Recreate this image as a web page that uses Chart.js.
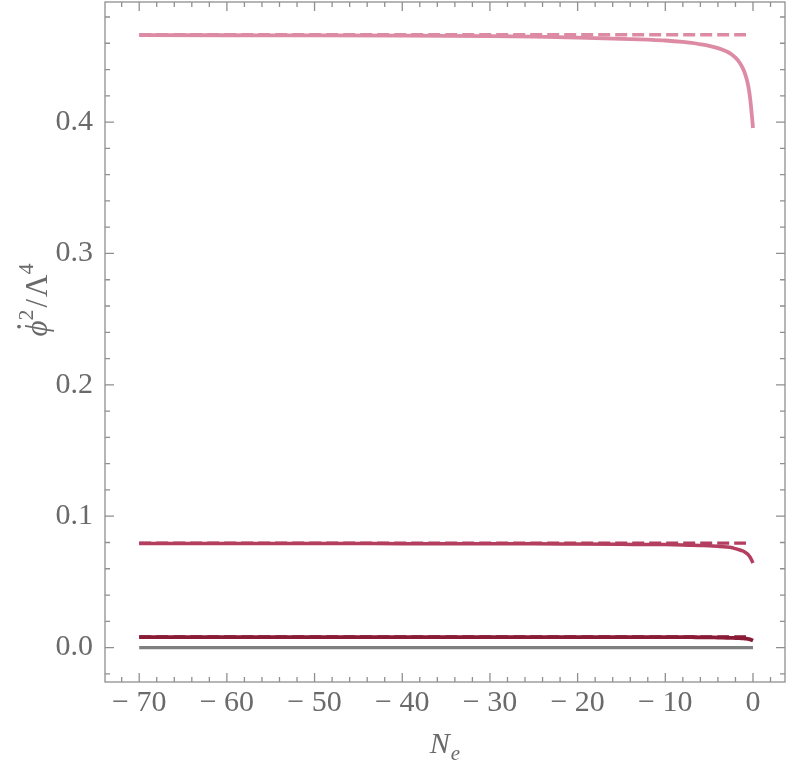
<!DOCTYPE html>
<html>
<head>
<meta charset="utf-8">
<script src="https://cdn.jsdelivr.net/npm/chart.js@4"></script>
<style>
html,body{margin:0;padding:0;background:#fff;}
#wrap{width:789px;height:774px;position:relative;}
</style>
</head>
<body>
<div id="wrap"><canvas id="c" width="789" height="774"></canvas></div>
<script>
// ---- data ----
const nE     = [-70,-60,-50,-40,-30,-25,-20,-15,-12,-10,-8,-7,-6,-5,-4,-3,-2.5,-2,-1.5,-1.2,-1,-0.8,-0.6,-0.45,-0.3,-0.2,-0.1,0];
const phiTop = [0.4662,0.4661,0.4660,0.4658,0.4654,0.4650,0.4643,0.4634,0.4627,0.4621,0.4610,0.4602,0.4592,0.4580,0.4563,0.4537,0.4518,0.4490,0.4450,0.4415,0.4385,0.4345,0.4295,0.4240,0.4165,0.4100,0.4030,0.3955];
const phiMid = [0.0792,0.0792,0.0792,0.0791,0.0790,0.0790,0.0788,0.0786,0.0785,0.0784,0.0781,0.0779,0.0777,0.0775,0.0771,0.0766,0.0762,0.0753,0.0743,0.0736,0.0730,0.0721,0.0710,0.0699,0.0685,0.0672,0.0658,0.0644];
const phiLow = [0.0080,0.0080,0.0080,0.0080,0.0080,0.0080,0.0080,0.0080,0.0079,0.0079,0.0079,0.0079,0.0078,0.0078,0.0076,0.0075,0.0074,0.0073,0.0072,0.0070,0.0069,0.0068,0.0066,0.0064,0.0061,0.0059,0.0056,0.0053];
const dashN   = [-70,-0.8];
const dashTop = [0.4665,0.4665];
const dashMid = [0.0795,0.0795];
const dashLow = [0.0081,0.0081];
const zeroN   = [-70,0];
const zeroVal = [0,0];
const xTicks  = [-70,-60,-50,-40,-30,-20,-10,0];
const yTicks  = [0.0,0.1,0.2,0.3,0.4];

const cTop='rgb(221,139,164)', cMid='rgb(180,62,95)', cLow='rgb(138,27,54)', cGray='rgb(128,128,128)';
const frameCol='#8f8f8f', textCol='#6a6a6a';
const serif='"Liberation Serif","Times New Roman",serif';

const pts=(xs,ys)=>xs.map((x,i)=>({x:x,y:ys[i]}));

const framePlugin={
  id:'frame',
  afterDraw(chart){
    const ctx=chart.ctx, a=chart.chartArea, xs=chart.scales.x, ys=chart.scales.y;
    ctx.save();
    ctx.strokeStyle=frameCol; ctx.lineWidth=1.3;
    ctx.strokeRect(a.left,a.top,a.right-a.left,a.bottom-a.top);
    ctx.beginPath();
    const maj=9, mnr=5;
    for(let v=-72; v<=2; v+=2){
      const p=xs.getPixelForValue(v); const L=(v%10===0)?maj:mnr;
      ctx.moveTo(p,a.bottom); ctx.lineTo(p,a.bottom-L);
      ctx.moveTo(p,a.top); ctx.lineTo(p,a.top+L);
    }
    for(let k=-1; k<=24; k++){
      const v=k*0.02; const p=ys.getPixelForValue(v); const L=(k%5===0)?maj:mnr;
      ctx.moveTo(a.left,p); ctx.lineTo(a.left+L,p);
      ctx.moveTo(a.right,p); ctx.lineTo(a.right-L,p);
    }
    ctx.stroke();
    // axis titles
    ctx.fillStyle=textCol;
    ctx.textBaseline='alphabetic'; ctx.textAlign='left';
    ctx.font='italic 30px '+serif;
    const nw=ctx.measureText('N').width;
    ctx.font='italic 21px '+serif;
    const ew=ctx.measureText('e').width;
    const cx=(a.left+a.right)/2, by=753;
    let x0=cx-(nw+ew+1)/2;
    ctx.font='italic 30px '+serif; ctx.fillText('N',x0,by);
    ctx.font='italic 21px '+serif; ctx.fillText('e',x0+nw+1,by+7);
    // phi-dot^2 / Lambda^4 (rotated)
    ctx.translate(37,300); ctx.rotate(-Math.PI/2);
    const parts=[
      {t:'\u03D5',f:'italic 31px '+serif,dy:0},
      {t:'2',f:'22px '+serif,dy:-14},
      {t:'/',f:'31px '+serif,dy:0,pad:2},
      {t:'\u039B',f:'31px '+serif,dy:0},
      {t:'4',f:'22px '+serif,dy:-14}
    ];
    let tw=0; parts.forEach(p=>{ctx.font=p.f; p.w=ctx.measureText(p.t).width+(p.pad||0)*2; tw+=p.w;});
    let px=-tw/2;
    parts.forEach((p,i)=>{
      ctx.font=p.f; ctx.fillText(p.t,px+(p.pad||0),p.dy+10);
      if(i===0){ ctx.beginPath(); ctx.arc(px+p.w*0.62,-18,1.9,0,Math.PI*2); ctx.fill(); }
      px+=p.w;
    });
    ctx.restore();
  }
};

new Chart(document.getElementById('c'),{
  type:'line',
  data:{datasets:[
    {data:pts(zeroN,zeroVal),borderColor:cGray,borderWidth:3.2},
    {data:pts(nE,phiLow),borderColor:cLow,borderWidth:3.8,cubicInterpolationMode:'monotone'},
    {data:pts(dashN,dashLow),borderColor:cLow,borderWidth:3.2,borderDash:[12,5]},
    {data:pts(nE,phiMid),borderColor:cMid,borderWidth:3.5,cubicInterpolationMode:'monotone'},
    {data:pts(dashN,dashMid),borderColor:cMid,borderWidth:3.2,borderDash:[12,5]},
    {data:pts(nE,phiTop),borderColor:cTop,borderWidth:3.8,cubicInterpolationMode:'monotone'},
    {data:pts(dashN,dashTop),borderColor:cTop,borderWidth:3.4,borderDash:[12,5]}
  ]},
  options:{
    responsive:false,animation:false,
    layout:{padding:{top:2,right:4,left:0,bottom:0}},
    elements:{point:{radius:0}},
    plugins:{legend:{display:false},tooltip:{enabled:false}},
    scales:{
      x:{type:'linear',min:-73.9,max:3.65,
        afterBuildTicks:s=>{s.ticks=xTicks.map(v=>({value:v}));},
        afterFit:s=>{s.height=92;s.paddingLeft=0;s.paddingRight=0;},
        grid:{display:false,drawTicks:false},border:{display:false},
        ticks:{padding:3,color:textCol,font:{family:serif,size:30},maxRotation:0,
          callback:v=>v<0?'\u2212 '+Math.abs(v):String(v)}},
      y:{type:'linear',min:-0.0262,max:0.4914,
        afterBuildTicks:s=>{s.ticks=yTicks.map(v=>({value:v}));},
        afterFit:s=>{s.width=105;s.paddingTop=0;s.paddingBottom=0;},
        grid:{display:false,drawTicks:false},border:{display:false},
        ticks:{padding:12,color:textCol,font:{family:serif,size:30},
          callback:v=>v.toFixed(1)}}
    }
  },
  plugins:[framePlugin]
});
</script>
</body>
</html>
